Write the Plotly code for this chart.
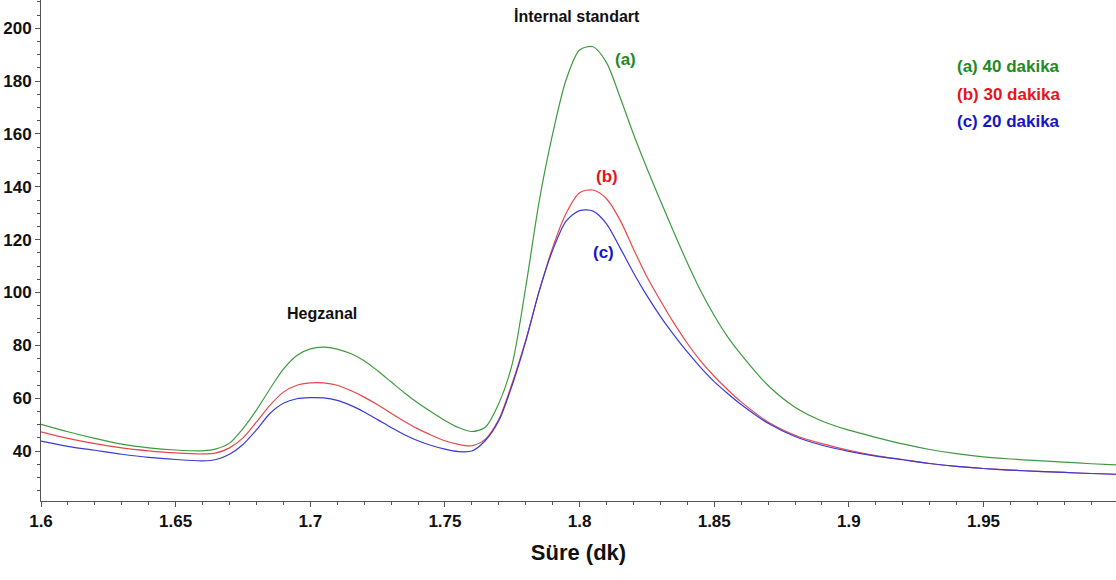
import plotly.graph_objects as go

# Retention time (dk)
sure = [1.600, 1.610, 1.620, 1.630, 1.640, 1.650, 1.660, 1.665, 1.670, 1.675,
        1.680, 1.685, 1.690, 1.695, 1.700, 1.705, 1.710, 1.715, 1.720, 1.725,
        1.730, 1.735, 1.740, 1.745, 1.750, 1.755, 1.760, 1.765, 1.770, 1.775,
        1.780, 1.785, 1.790, 1.795, 1.800, 1.805, 1.810, 1.815, 1.820, 1.825,
        1.830, 1.835, 1.840, 1.845, 1.850, 1.855, 1.860, 1.870, 1.880, 1.890,
        1.900, 1.910, 1.920, 1.930, 1.940, 1.950, 1.960, 1.970, 1.980, 1.990,
        2.000]

# (a) 40 dakika
signal_40 = [50.1, 47.3, 44.8, 42.6, 41.2, 40.4, 40.1, 40.8, 43.0, 48.5,
             55.5, 63.5, 71.0, 76.2, 78.7, 79.3, 78.6, 76.9, 74.2, 70.4,
             66.2, 62.0, 58.2, 54.8, 51.6, 48.9, 47.4, 49.0, 58.0, 73.0,
             102.0, 134.5, 160.0, 180.5, 191.8, 193.0, 187.0, 174.0, 160.0, 147.0,
             134.8, 122.8, 111.3, 100.6, 91.3, 83.2, 76.5, 64.8, 56.6, 51.4,
             47.9, 45.2, 42.7, 40.6, 39.0, 37.8, 37.0, 36.4, 35.8, 35.2,
             34.7]

# (b) 30 dakika
signal_30 = [47.3, 44.8, 42.8, 41.2, 40.1, 39.3, 38.9, 39.3, 41.2, 45.0,
             51.0, 57.3, 62.3, 64.9, 65.8, 65.8, 64.9, 62.9, 60.4, 57.5,
             54.3, 51.2, 48.4, 46.0, 43.9, 42.5, 42.0, 44.5, 52.0, 65.8,
             82.0, 100.5, 117.0, 130.0, 137.8, 138.8, 135.5, 127.5, 116.5, 106.0,
             97.0, 88.5, 80.8, 74.0, 68.3, 63.2, 58.6, 51.0, 46.0, 42.8,
             40.3, 38.3, 36.8, 35.3, 34.2, 33.4, 32.8, 32.3, 31.9, 31.5,
             31.2]

# (c) 20 dakika
signal_20 = [43.8, 41.8, 40.3, 38.8, 37.6, 36.8, 36.3, 36.8, 38.8, 42.5,
             48.0, 54.2, 58.1, 59.8, 60.2, 60.1, 59.2, 57.3, 54.8, 51.9,
             48.9, 46.2, 43.9, 42.1, 40.7, 39.8, 40.0, 44.0, 51.5, 65.0,
             81.5, 100.5, 116.0, 127.0, 131.0, 130.8, 126.0, 117.0, 107.5, 98.8,
             91.0, 84.0, 77.5, 71.6, 66.3, 61.8, 57.6, 50.5, 45.5, 42.2,
             39.9, 38.1, 36.7, 35.3, 34.2, 33.4, 32.8, 32.3, 31.9, 31.5,
             31.2]

x_ticks = [1.6, 1.65, 1.7, 1.75, 1.8, 1.85, 1.9, 1.95]
x_tick_labels = ["1.6", "1.65", "1.7", "1.75", "1.8", "1.85", "1.9", "1.95"]
y_ticks = [40, 60, 80, 100, 120, 140, 160, 180, 200]

GREEN = "#3f9a3f"
RED = "#e8474a"
BLUE = "#3a3ad6"
GREEN_T = "#1f8a22"
RED_T = "#e3161c"
BLUE_T = "#1616c8"

FONT = "Liberation Sans Narrow, Arial Narrow, Liberation Sans, Arial, sans-serif"

fig = go.Figure()
for ys, col, name in [(signal_40, GREEN, "(a) 40 dakika"),
                      (signal_30, RED, "(b) 30 dakika"),
                      (signal_20, BLUE, "(c) 20 dakika")]:
    fig.add_trace(go.Scatter(x=sure, y=ys, mode="lines", name=name,
                             line=dict(color=col, width=1.2, shape="spline", smoothing=0.8),
                             showlegend=False))

annotations = [
    dict(x=1.799, y=204.6, text="<b>İnternal standart</b>", font=dict(family=FONT, size=16, color="#111")),
    dict(x=1.7043, y=91.9, text="<b>Hegzanal</b>", font=dict(family=FONT, size=16, color="#111")),
    dict(x=1.8172, y=188.0, text="<b>(a)</b>", font=dict(family=FONT, size=17, color=GREEN_T)),
    dict(x=1.8102, y=144.0, text="<b>(b)</b>", font=dict(family=FONT, size=17, color=RED_T)),
    dict(x=1.8087, y=115.0, text="<b>(c)</b>", font=dict(family=FONT, size=17, color=BLUE_T)),
    dict(x=1.9394, y=185.7, text="<b>(a) 40 dakika</b>", xanchor="left", font=dict(family=FONT, size=17, color=GREEN_T)),
    dict(x=1.9394, y=175.1, text="<b>(b) 30 dakika</b>", xanchor="left", font=dict(family=FONT, size=17, color=RED_T)),
    dict(x=1.9394, y=164.9, text="<b>(c) 20 dakika</b>", xanchor="left", font=dict(family=FONT, size=17, color=BLUE_T)),
]
for a in annotations:
    a.setdefault("xanchor", "center")
    a.update(xref="x", yref="y", showarrow=False, yanchor="middle")

fig.update_layout(
    width=1116, height=580,
    margin=dict(l=41, r=0, t=0, b=79),
    paper_bgcolor="white", plot_bgcolor="white",
    annotations=annotations,
    font=dict(family=FONT, color="#111"),
)
fig.update_xaxes(
    range=[1.6, 1.9992], tickvals=x_ticks, ticktext=x_tick_labels,
    showgrid=False, zeroline=False, showline=True, linecolor="#555", linewidth=1,
    ticks="outside", ticklen=5, tickcolor="#555",
    tickfont=dict(family=FONT, size=17, color="#111", weight="bold"),
    minor=dict(dtick=0.01, ticks="outside", ticklen=3, tickcolor="#555"),
    title=dict(text="<b>Süre (dk)</b>", font=dict(family=FONT, size=22, color="#111"), standoff=14),
)
fig.update_yaxes(
    range=[21.1, 210.7], tickvals=y_ticks,
    showgrid=False, zeroline=False, showline=True, linecolor="#555", linewidth=1,
    ticks="outside", ticklen=5, tickcolor="#555",
    tickfont=dict(family=FONT, size=17, color="#111", weight="bold"),
    minor=dict(dtick=5, ticks="outside", ticklen=3, tickcolor="#555"),
)

fig.write_html("out.html")
